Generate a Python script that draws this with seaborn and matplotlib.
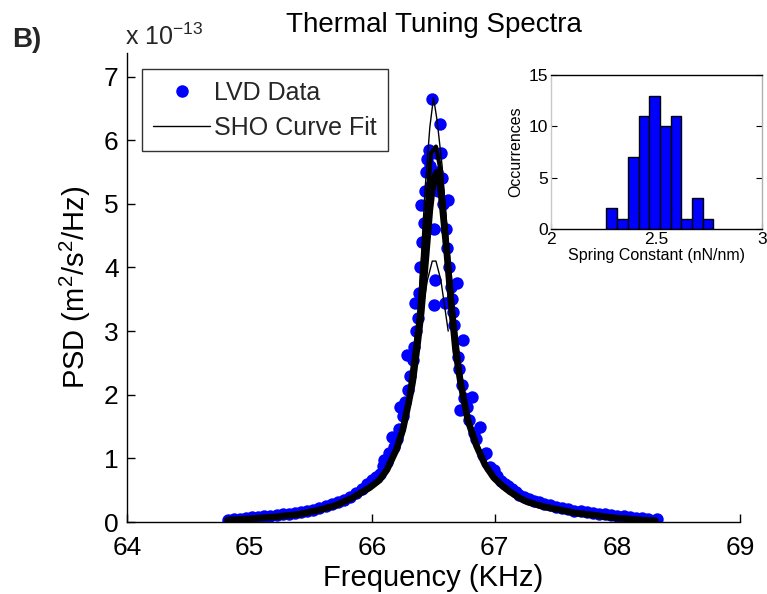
import matplotlib
matplotlib.use("Agg")
import matplotlib.pyplot as plt
import seaborn as sns
import pandas as pd
from matplotlib.lines import Line2D

sns.set_theme(style="white")
plt.rcParams['font.family'] = ['Liberation Sans', 'DejaVu Sans']
plt.rcParams['mathtext.fontset'] = 'custom'
plt.rcParams['mathtext.rm'] = 'Liberation Sans'
plt.rcParams['mathtext.it'] = 'Liberation Sans'
plt.rcParams['mathtext.bf'] = 'Liberation Sans:bold'

# ---------------- data (PSD in units of 1e-13 m^2/s^2/Hz) ----------------
data_freq = [64.82, 64.87, 64.92, 64.97, 65.02, 65.07, 65.12, 65.17, 65.22, 65.27,
             65.32, 65.37, 65.42, 65.47, 65.52, 65.57, 65.62, 65.67, 65.72, 65.77,
             65.82, 65.87, 65.92, 65.96, 66.00, 66.03, 66.06, 66.09, 66.10, 66.12,
             66.14, 66.16, 66.18, 66.20, 66.22, 66.23, 66.25, 66.27, 66.28, 66.29,
             66.31, 66.33, 66.34, 66.35, 66.36, 66.37, 66.38, 66.39, 66.40, 66.41,
             66.42, 66.43, 66.44, 66.45, 66.46, 66.47, 66.48, 66.49, 66.50, 66.505,
             66.51, 66.52, 66.53, 66.54, 66.55, 66.56, 66.57, 66.58, 66.59, 66.60,
             66.61, 66.62, 66.63, 66.64, 66.65, 66.66, 66.67, 66.69, 66.70, 66.71,
             66.72, 66.73, 66.74, 66.75, 66.77, 66.79, 66.81, 66.83, 66.85, 66.88,
             66.90, 66.93, 66.96, 66.99, 67.02, 67.05, 67.08, 67.11, 67.14, 67.17,
             67.20, 67.24, 67.28, 67.32, 67.36, 67.40, 67.45, 67.50, 67.55, 67.60,
             67.65, 67.70, 67.75, 67.80, 67.85, 67.90, 67.95, 68.00, 68.05, 68.10,
             68.15, 68.20, 68.25, 68.32]
data_psd = [0.03, 0.05, 0.05, 0.06, 0.08, 0.08, 0.09, 0.10, 0.11, 0.12,
            0.13, 0.14, 0.16, 0.17, 0.19, 0.22, 0.25, 0.28, 0.31, 0.35,
            0.40, 0.46, 0.52, 0.60, 0.66, 0.70, 0.76, 0.88, 0.97, 0.94,
            1.08, 1.34, 1.18, 1.30, 1.46, 1.81, 1.66, 1.88, 2.62, 2.08,
            2.30, 2.55, 2.75, 3.44, 3.00, 3.20, 3.60, 4.00, 4.98, 4.40,
            4.70, 5.20, 5.50, 5.70, 5.85, 5.60, 5.30, 6.65, 3.41, 4.60,
            3.80, 5.80, 5.50, 5.20, 6.26, 5.80, 5.40, 5.00, 3.44, 4.60,
            4.30, 5.06, 4.00, 3.70, 3.50, 3.30, 3.10, 3.76, 2.60, 2.40,
            1.76, 2.15, 2.86, 1.95, 1.80, 1.60, 1.97, 1.40, 1.30, 1.50,
            1.05, 1.08, 0.87, 0.82, 0.72, 0.64, 0.60, 0.56, 0.52, 0.47,
            0.43, 0.39, 0.36, 0.33, 0.31, 0.29, 0.27, 0.24, 0.22, 0.20,
            0.18, 0.17, 0.15, 0.14, 0.13, 0.12, 0.11, 0.10, 0.09, 0.08,
            0.07, 0.06, 0.05, 0.04]

fit_freq = [64.82, 65.00, 65.20, 65.40, 65.57, 65.70, 65.84, 65.98, 66.06, 66.12,
            66.20, 66.25, 66.30, 66.33, 66.37, 66.40, 66.44, 66.47, 66.50, 66.53,
            66.56, 66.59, 66.61, 66.65, 66.68, 66.72, 66.78, 66.85, 66.92, 66.99,
            67.06, 67.12, 67.20, 67.26, 67.40, 67.53, 67.66, 67.80, 67.95, 68.08,
            68.20, 68.31]
fit_psd = [0.03, 0.05, 0.08, 0.12, 0.19, 0.26, 0.38, 0.54, 0.66, 0.82,
           1.15, 1.45, 1.90, 2.20, 2.80, 3.30, 4.20, 4.90, 5.40, 5.50,
           5.20, 4.60, 4.20, 3.30, 2.70, 2.20, 1.60, 1.20, 0.90, 0.70,
           0.57, 0.48, 0.38, 0.32, 0.24, 0.19, 0.14, 0.11, 0.07, 0.05,
           0.03, 0.02]

fit2_freq = [66.30, 66.38, 66.43, 66.48, 66.52, 66.56, 66.61, 66.66, 66.72]
fit2_psd = [2.00, 3.20, 4.60, 5.80, 5.90, 5.50, 4.40, 3.30, 2.30]

env_freq = [66.30, 66.38, 66.43, 66.47, 66.50, 66.53, 66.57, 66.62, 66.70]
env_psd = [2.00, 3.40, 5.20, 6.20, 6.67, 6.30, 5.60, 4.30, 2.60]

inner_freq = [66.40, 66.45, 66.49, 66.52, 66.56, 66.62]
inner_psd = [3.20, 3.80, 4.10, 4.10, 3.80, 3.00]

# inset histogram
k_centers = [2.288, 2.339, 2.389, 2.440, 2.491, 2.541, 2.592, 2.643, 2.693, 2.744]
k_counts = [2, 1, 7, 11, 13, 10, 11, 1, 3, 1]
k_edges = [2.263, 2.314, 2.364, 2.415, 2.466, 2.516, 2.567, 2.618, 2.668, 2.719, 2.770]

xticks_main = [64, 65, 66, 67, 68, 69]
yticks_main = [0, 1, 2, 3, 4, 5, 6, 7]

df_data = pd.DataFrame({"f": data_freq, "p": data_psd})
df_fit = pd.DataFrame({"f": fit_freq, "p": fit_psd})
df_fit2 = pd.DataFrame({"f": fit2_freq, "p": fit2_psd})
df_env = pd.DataFrame({"f": env_freq, "p": env_psd})
df_inner = pd.DataFrame({"f": inner_freq, "p": inner_psd})
df_hist = pd.DataFrame({"k": k_centers, "n": k_counts})

fig = plt.figure(figsize=(7.67, 5.94), dpi=100)
ax = fig.add_axes([127/767, 1 - 522/594, 613/767, 469/594])

sns.scatterplot(data=df_data, x="f", y="p", ax=ax, color=(0, 0, 1), s=80,
                linewidth=0, marker="o", zorder=2, legend=False)
sns.lineplot(data=df_fit, x="f", y="p", ax=ax, color="black", lw=4.8,
             zorder=3, legend=False, sort=False)
sns.lineplot(data=df_fit2, x="f", y="p", ax=ax, color="black", lw=3.0,
             zorder=3, legend=False, sort=False)
sns.lineplot(data=df_env, x="f", y="p", ax=ax, color="black", lw=1.0,
             zorder=3, legend=False, sort=False)
sns.lineplot(data=df_inner, x="f", y="p", ax=ax, color="black", lw=1.0,
             zorder=3, legend=False, sort=False)

ax.set_xlim(64, 69)
ax.set_ylim(0, 7.37)
ax.set_xticks(xticks_main)
ax.set_yticks(yticks_main)
ax.tick_params(direction="in", length=6, width=1, labelsize=19, colors="black",
               bottom=True, left=True)
ax.tick_params(axis="x", pad=10)
ax.tick_params(axis="y", pad=6)
for s in ["top", "right"]:
    ax.spines[s].set_visible(False)
for s in ["left", "bottom"]:
    ax.spines[s].set_color("black")
    ax.spines[s].set_linewidth(1)
ax.set_xlabel("Frequency (KHz)", fontsize=21, color="black", labelpad=3)
ax.set_ylabel("PSD (m$^2$/s$^2$/Hz)", fontsize=21, color="black", labelpad=8)
ax.set_title("Thermal Tuning Spectra", fontsize=20, color="black", pad=15)

# legend
handles = [Line2D([], [], ls="none", marker="o", color=(0, 0, 1), markersize=8),
           Line2D([], [], color="black", lw=1)]
leg = ax.legend(handles, ["LVD Data", "SHO Curve Fit"], loc="upper left",
                bbox_to_anchor=(0.024, 0.965), fontsize=18, frameon=True,
                fancybox=False, edgecolor="black", handlelength=2.3,
                borderpad=0.45, labelspacing=0.45, handletextpad=0.15,
                borderaxespad=0)
leg.get_frame().set_linewidth(1)

fig.text(125/767, 1 - 37/594, "x 10$^{-13}$", fontsize=18, ha="left", va="center")
fig.text(12/767, 1 - 40/594, "B)", fontsize=20, fontweight="bold", ha="left", va="center")

# inset
ax2 = fig.add_axes([551/767, 1 - 229/594, 211/767, 154/594])
sns.histplot(data=df_hist, x="k", weights="n", bins=k_edges, ax=ax2,
             color=(0, 0, 1), edgecolor="black", linewidth=1.0, alpha=1)
ax2.set_xlim(2, 3)
ax2.set_ylim(0, 15)
ax2.set_xticks([2, 2.5, 3])
ax2.set_xticklabels(["2", "2.5", "3"])
ax2.set_yticks([0, 5, 10, 15])
ax2.tick_params(direction="in", length=4, width=0.8, labelsize=12.5, colors="black",
                bottom=True, left=True, right=True, pad=2)
ax2.set_xlabel("Spring Constant (nN/nm)", fontsize=11.5, color="black", labelpad=1)
ax2.set_ylabel("Occurrences", fontsize=11.5, color="black", labelpad=4)
ax2.spines["left"].set_color("#c8c8c8")
ax2.spines["right"].set_color("#b0b0b0")
ax2.spines["top"].set_color("black")
ax2.spines["bottom"].set_color("black")
for s in ax2.spines.values():
    s.set_linewidth(1)

fig.savefig("out.png", dpi=100)
